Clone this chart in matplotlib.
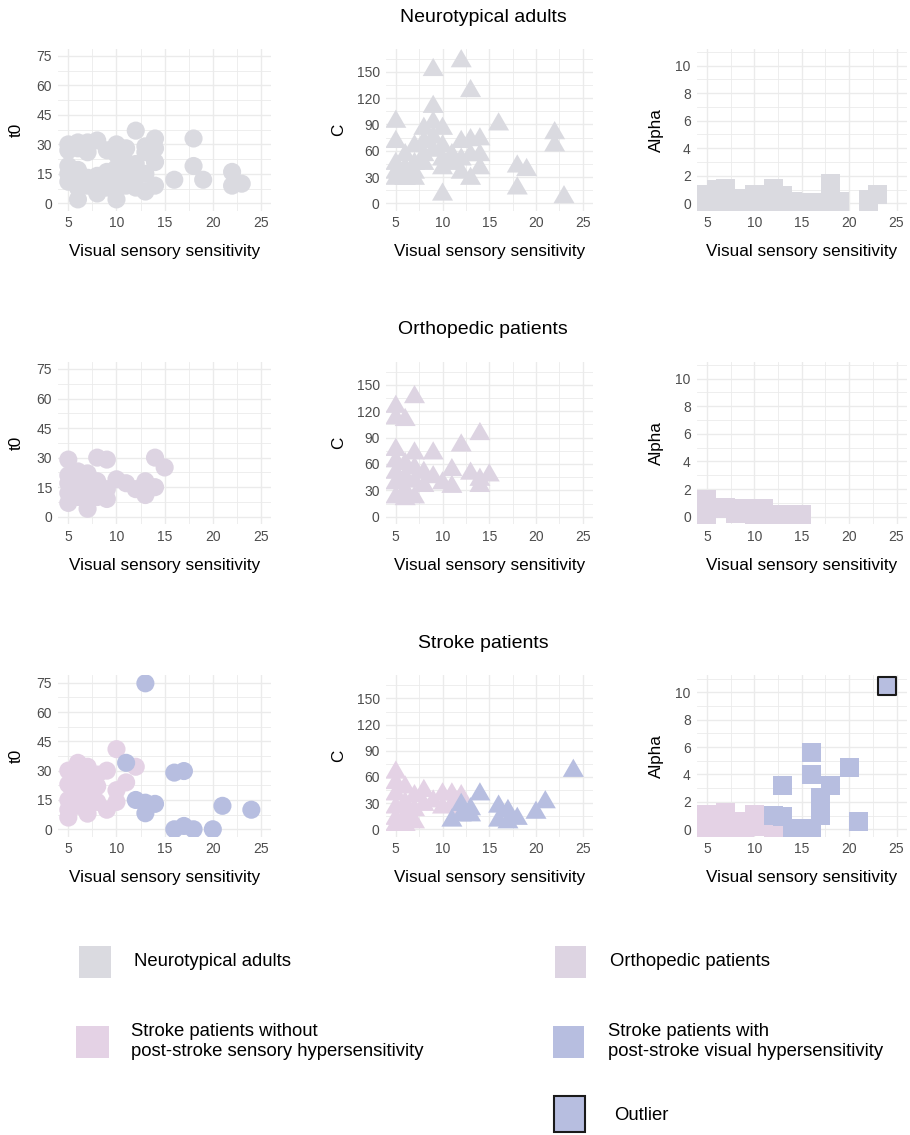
import matplotlib
matplotlib.use('Agg')
import matplotlib.pyplot as plt
from matplotlib.patches import Rectangle
from matplotlib.ticker import MultipleLocator

plt.rcParams['font.family'] = ['Liberation Sans', 'DejaVu Sans']

# ---------------- data ----------------
# Neurotypical adults
nt_t0_x = [5, 5, 5, 5, 5, 6, 6, 6, 6, 6, 7, 7, 7, 7, 8, 8, 8, 8, 9, 9, 9, 9, 10, 10, 10, 10, 10, 10,
           11, 11, 11, 11, 12, 12, 12, 13, 13, 13, 13, 14, 14, 14, 14, 16, 18, 18, 19, 22, 22, 23, 6, 12]
nt_t0_y = [30, 27, 19, 15, 11, 31, 28, 12, 2, 8, 31, 26, 13, 9, 32, 14, 5, 10, 27, 12, 16, 8, 30, 25, 18, 12, 2, 7,
           28, 21, 15, 9, 37, 13, 8, 29, 26, 15, 6, 33, 28, 21, 9, 12, 33, 19, 12, 16, 9, 10, 17, 20]

nt_c_x = [5, 5, 5, 5, 5, 6, 6, 6, 7, 7, 7, 8, 8, 8, 8, 9, 9, 9, 9, 9, 10, 10, 10, 10, 10, 11, 11,
          12, 12, 12, 12, 13, 13, 13, 13, 14, 14, 14, 16, 18, 18, 19, 22, 22, 23, 6, 7]
nt_c_y = [93, 70, 45, 35, 28, 55, 40, 28, 65, 45, 35, 85, 70, 55, 45, 152, 110, 92, 75, 60, 85, 65, 50, 40, 10, 55, 45,
          162, 70, 50, 35, 128, 72, 55, 28, 73, 55, 40, 90, 42, 17, 38, 80, 66, 7, 28, 28]

nt_alpha_x = [5, 6, 7, 9, 10, 12, 13, 14, 16, 18, 18, 19, 22, 23, 5, 7, 9, 11, 13, 15, 17, 19, 22]
nt_alpha_y = [0.66, 1.03, 1.08, 0.33, 0.66, 1.08, 0.58, 0.16, 0.04, 1.45, 0.05, 0.16, 0.29, 0.66,
              0.02, 0.02, 0.02, 0.02, 0.02, 0.02, 0.02, 0.02, 0.0]

# Orthopedic patients
or_t0_x = [5, 5, 5, 5, 5, 6, 6, 6, 7, 7, 7, 7, 8, 8, 8, 8, 9, 9, 9, 10, 11, 12, 13, 13, 14, 14, 15]
or_t0_y = [29, 21, 17, 12, 7, 23, 15, 10, 22, 17, 4, 12, 30, 18, 10, 15, 29, 9, 14, 19, 17, 14, 18, 11, 30, 15, 25]

or_c_x = [5, 5, 6, 7, 5, 5, 5, 5, 5, 6, 6, 6, 7, 7, 7, 7, 8, 8, 9, 9, 10, 11, 11, 12, 13, 14, 14, 14, 15, 6]
or_c_y = [125, 112, 110, 136, 76, 63, 50, 38, 22, 45, 30, 60, 72, 55, 40, 22, 50, 35, 72, 45, 38, 53, 34, 81, 49, 94, 42, 35, 47, 20]

or_alpha_x = [5, 7, 9, 11, 13, 15, 5, 6, 8, 10, 12, 14]
or_alpha_y = [1.28, 0.65, 0.58, 0.58, 0.16, 0.16, 0.05, 0.6, 0.2, 0.1, 0.1, 0.05]

# Stroke patients without post-stroke sensory hypersensitivity
sw_t0_x = [5, 5, 5, 5, 5, 6, 6, 6, 6, 7, 7, 7, 7, 8, 8, 8, 9, 9, 10, 10, 10, 11, 12]
sw_t0_y = [30, 23, 15, 10, 6, 34, 27, 19, 12, 32, 25, 16, 8, 22, 14, 28, 30, 10, 41, 20, 14, 24, 32]

sw_c_x = [5, 5, 5, 5, 5, 6, 6, 6, 7, 7, 7, 8, 8, 9, 10, 10, 11, 11, 12, 12, 6, 5]
sw_c_y = [65, 53, 40, 25, 12, 48, 30, 15, 38, 22, 8, 44, 28, 32, 40, 25, 40, 28, 38, 24, 5, 5]

sw_alpha_x = [5, 7, 8, 10, 12, 5, 6, 9, 11, 7]
sw_alpha_y = [1.08, 1.23, 0.58, 1.08, 0.1, 0.05, 0.3, 0.1, 0.2, 0.1]

# Stroke patients with post-stroke visual hypersensitivity
sv_t0_x = [13, 11, 16, 17, 12, 13, 13, 14, 21, 24, 16, 17, 18, 20]
sv_t0_y = [74.7, 34, 29, 29.8, 15, 13.6, 8.2, 13, 12, 10, 0, 1.7, 0, 0]

sv_c_x = [24, 21, 20, 18, 17, 16, 16, 14, 13, 12, 12, 13, 11, 17]
sv_c_y = [67, 31, 19, 12, 21, 26, 10, 40, 23, 28, 16, 16, 10, 8]

sv_alpha_x = [12, 13, 13, 14, 16, 16, 16, 17, 17, 18, 20, 21]
sv_alpha_y = [1.03, 0.9, 3.2, 0.03, 0.09, 5.63, 3.97, 2.3, 1.0, 3.2, 4.54, 0.55]

outlier_x = [24]
outlier_y = [10.47]

# ---------------- styles ----------------
C_NT = '#DADAE0'
C_OR = '#DDD4E2'
C_SW = '#E4D2E5'
C_SV = '#B7BEE0'
GRID = '#EBEBEB'
TICKC = '#4D4D4D'

TRI = [(0, 0.577), (-0.5, -0.289), (0.5, -0.289)]
S_CIRC = 170
S_TRI = 305
S_SQ = 187

W, H = 910, 1135
fig = plt.figure(figsize=(W / 100, H / 100), dpi=100)

cols = [(58.2, 271.1), (386.0, 592.5), (697.0, 906.5)]
rows = [(48.6, 210.7), (361.6, 524.1), (675.4, 836.6)]
ylab_off = [41.5, 47.0, 40.3]

ylims = [(-3.75, 78.75), (-8.4, 176.4), (-0.535, 11.235)]
ymajor = [15, 30, 2]
ylabels = ['t0', 'C', 'Alpha']


def make_ax(r, c):
    l, rr = cols[c]
    t, b = rows[r]
    ax = fig.add_axes([l / W, 1 - b / H, (rr - l) / W, (b - t) / H])
    ax.set_xlim(3.95, 26.05)
    ax.set_ylim(*ylims[c])
    ax.xaxis.set_major_locator(MultipleLocator(5))
    ax.xaxis.set_minor_locator(MultipleLocator(2.5))
    ax.yaxis.set_major_locator(MultipleLocator(ymajor[c]))
    ax.yaxis.set_minor_locator(MultipleLocator(ymajor[c] / 2))
    ax.grid(True, which='major', color=GRID, lw=1.0)
    ax.grid(True, which='minor', color=GRID, lw=0.6)
    ax.set_axisbelow(True)
    for s in ax.spines.values():
        s.set_visible(False)
    ax.tick_params(which='both', length=0)
    ax.tick_params(axis='x', labelsize=10, labelcolor=TICKC, pad=4)
    ax.tick_params(axis='y', labelsize=10, labelcolor=TICKC, pad=4.5)
    ax.set_xlabel('Visual sensory sensitivity', fontsize=12.3, color='black')
    ax.xaxis.label.set_va('center')
    ax.xaxis.set_label_coords(0.5, -41.0 / (b - t))
    ax.set_ylabel(ylabels[c], fontsize=12.3, color='black')
    ax.yaxis.label.set_va('center')
    ax.yaxis.set_label_coords(-ylab_off[c] / (rr - l), 0.5)
    return ax


panels = [
    [[(nt_t0_x, nt_t0_y, C_NT)], [(nt_c_x, nt_c_y, C_NT)], [(nt_alpha_x, nt_alpha_y, C_NT)]],
    [[(or_t0_x, or_t0_y, C_OR)], [(or_c_x, or_c_y, C_OR)], [(or_alpha_x, or_alpha_y, C_OR)]],
    [[(sw_t0_x, sw_t0_y, C_SW), (sv_t0_x, sv_t0_y, C_SV)],
     [(sw_c_x, sw_c_y, C_SW), (sv_c_x, sv_c_y, C_SV)],
     [(sw_alpha_x, sw_alpha_y, C_SW), (sv_alpha_x, sv_alpha_y, C_SV)]],
]
markers = [('o', S_CIRC), (TRI, S_TRI), ('s', S_SQ)]

for r in range(3):
    for c in range(3):
        ax = make_ax(r, c)
        mk, sz = markers[c]
        for xs, ys, col in panels[r][c]:
            ax.scatter(xs, ys, s=sz, marker=mk, c=col, edgecolors='none', zorder=3)
        if r == 2 and c == 2:
            ax.scatter(outlier_x, outlier_y, s=S_SQ * 0.85, marker='s', c=C_SV,
                       edgecolors='#1a1a1a', linewidths=1.5, zorder=4)

# titles
titles = ['Neurotypical adults', 'Orthopedic patients', 'Stroke patients']
title_y = [17, 330, 643.5]
for t, y in zip(titles, title_y):
    fig.text(483 / W, 1 - y / H, t, ha='center', va='center', fontsize=14)

# legend (overlay in pixel coordinates)
lg = fig.add_axes([0, 0, 1, 1])
lg.set_xlim(0, W)
lg.set_ylim(H, 0)
lg.axis('off')
items = [
    ((78.5, 946, 32, 32), C_NT, None, (134, 962), 'Neurotypical adults'),
    ((555, 946, 31, 32), C_OR, None, (610, 962), 'Orthopedic patients'),
    ((76, 1026, 32.5, 32), C_SW, None, (131, 1041.5),
     'Stroke patients without\npost-stroke sensory hypersensitivity'),
    ((553, 1026, 31, 32), C_SV, None, (608, 1041.5),
     'Stroke patients with\npost-stroke visual hypersensitivity'),
    ((553.5, 1096, 31, 36), C_SV, '#1a1a1a', (614, 1116), 'Outlier'),
]
for (x, y, w, h), col, ec, (tx, ty), label in items:
    lg.add_patch(Rectangle((x, y), w, h, facecolor=col,
                           edgecolor=ec if ec else 'none', lw=1.5 if ec else 0))
    lg.text(tx, ty, label, ha='left', va='center', fontsize=13.3, linespacing=1.25)

fig.savefig('out.png', dpi=100, facecolor='white')
